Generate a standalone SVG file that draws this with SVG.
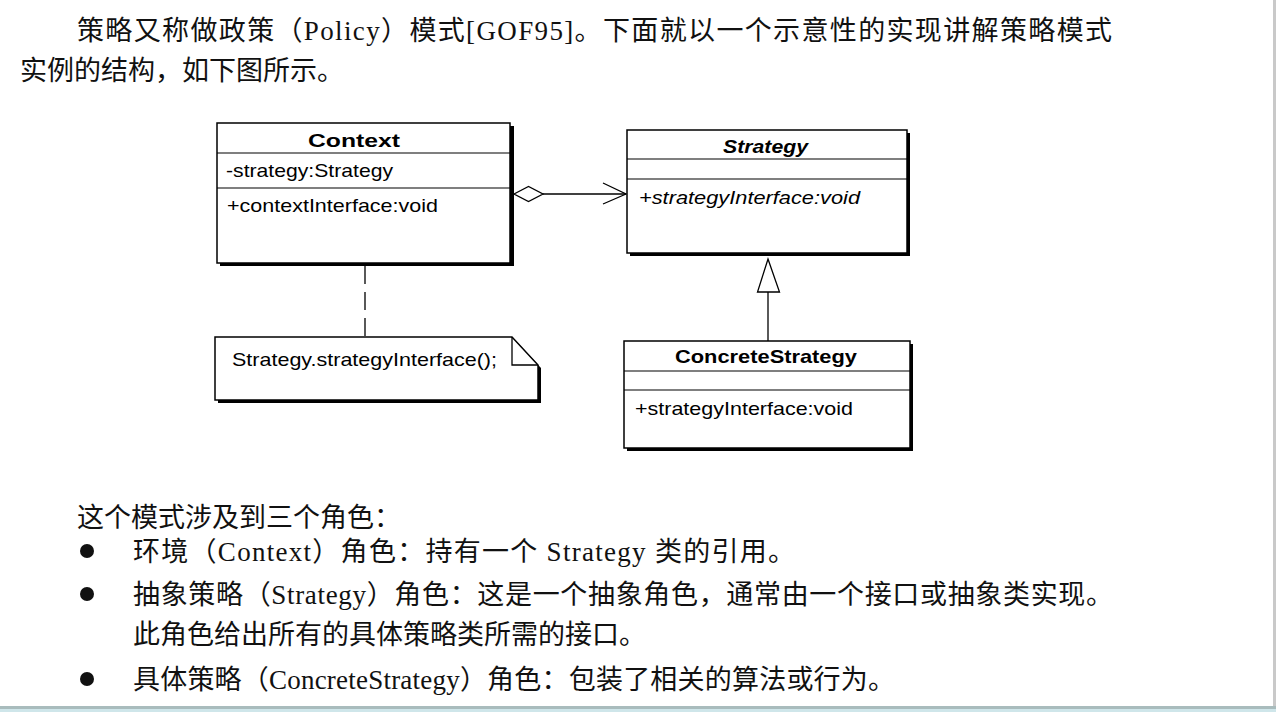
<svg xmlns="http://www.w3.org/2000/svg" width="1276" height="712" viewBox="0 0 1276 712">
<style>
.body{font-family:"Liberation Serif","Noto Sans CJK SC",serif;font-size:27px;fill:#111}
.uml{font-family:"Liberation Sans",Arial,sans-serif;font-size:19px;fill:#000}
.title{font-weight:bold}
.ital{font-style:italic}
.box{fill:#fff;stroke:#000;stroke-width:1.5}
.shadow{fill:#000}
.div{stroke:#000;stroke-width:1.2}
.conn{fill:none;stroke:#000;stroke-width:1.3}
</style>
<rect x="0" y="0" width="1276" height="712" fill="#fff"/>
<rect x="1273" y="0" width="3" height="712" fill="#c9c9c9"/>
<rect x="0" y="706" width="1276" height="3" fill="#a9bcbd"/>
<rect x="0" y="709" width="1276" height="3" fill="#cfe6ea"/>

<g id="intro">
<text class="body" x="77" y="40" textLength="1035" lengthAdjust="spacing">策略又称做政策（Policy）模式[GOF95]。下面就以一个示意性的实现讲解策略模式</text>
<text class="body" x="20" y="80">实例的结构，如下图所示。</text>
</g>

<g id="connectors">
<path class="conn" d="M543,194 H626"/>
<path class="conn" d="M603,183 L626,194 L603,204"/>
<path d="M514,194 L528.5,186.5 L543,194 L528.5,201.5 Z" fill="#fff" stroke="#000" stroke-width="1.3"/>
<path class="conn" d="M768,292 V341"/>
<path d="M768,259 L779.5,292 L757.5,292 Z" fill="#fff" stroke="#000" stroke-width="1.3"/>
<path class="conn" d="M365,266 V337" stroke-dasharray="18 8"/>
</g>

<g id="context">
<rect class="shadow" x="220" y="126" width="294" height="140"/>
<rect class="box" x="217" y="123" width="293" height="140"/>
<line class="div" x1="217" y1="153" x2="510" y2="153"/>
<line class="div" x1="217" y1="188" x2="510" y2="188"/>
<text class="uml title" x="308" y="147" textLength="92" lengthAdjust="spacingAndGlyphs">Context</text>
<text class="uml" x="226" y="177" textLength="167" lengthAdjust="spacingAndGlyphs">-strategy:Strategy</text>
<text class="uml" x="227" y="212" textLength="211" lengthAdjust="spacingAndGlyphs">+contextInterface:void</text>
</g>

<g id="strategy">
<rect class="shadow" x="630" y="133" width="280" height="123"/>
<rect class="box" x="627" y="130" width="280" height="123"/>
<line class="div" x1="627" y1="159" x2="907" y2="159"/>
<line class="div" x1="627" y1="179" x2="907" y2="179"/>
<text class="uml title ital" x="723" y="153" textLength="85" lengthAdjust="spacingAndGlyphs">Strategy</text>
<text class="uml ital" x="639" y="204" textLength="221" lengthAdjust="spacingAndGlyphs">+strategyInterface:void</text>
</g>

<g id="concreteStrategy">
<rect class="shadow" x="627" y="344" width="286" height="107"/>
<rect class="box" x="624" y="341" width="286" height="107"/>
<line class="div" x1="624" y1="371" x2="910" y2="371"/>
<line class="div" x1="624" y1="390" x2="910" y2="390"/>
<text class="uml title" x="675" y="363" textLength="182" lengthAdjust="spacingAndGlyphs">ConcreteStrategy</text>
<text class="uml" x="635" y="415" textLength="218" lengthAdjust="spacingAndGlyphs">+strategyInterface:void</text>
</g>

<g id="note">
<path d="M218,340 H515 L541,368 V403 H218 Z" fill="#000"/>
<path d="M215,337 H512 L538,365 V400 H215 Z" fill="#fff" stroke="#000" stroke-width="1.5"/>
<path d="M512,337 V365 H538" fill="none" stroke="#000" stroke-width="1.3"/>
<text class="uml" x="232" y="366" textLength="265" lengthAdjust="spacingAndGlyphs">Strategy.strategyInterface();</text>
</g>

<g id="roles">
<text class="body" x="77" y="527">这个模式涉及到三个角色：</text>
<circle cx="87" cy="551" r="7" fill="#111"/>
<text class="body" x="133" y="561" textLength="662" lengthAdjust="spacing">环境（Context）角色：持有一个 Strategy 类的引用。</text>
<circle cx="87" cy="594" r="7" fill="#111"/>
<text class="body" x="133" y="604" textLength="980" lengthAdjust="spacing">抽象策略（Strategy）角色：这是一个抽象角色，通常由一个接口或抽象类实现。</text>
<text class="body" x="133" y="644">此角色给出所有的具体策略类所需的接口。</text>
<circle cx="87" cy="679" r="7" fill="#111"/>
<text class="body" x="133" y="689" textLength="762" lengthAdjust="spacing">具体策略（ConcreteStrategy）角色：包装了相关的算法或行为。</text>
</g>
</svg>
